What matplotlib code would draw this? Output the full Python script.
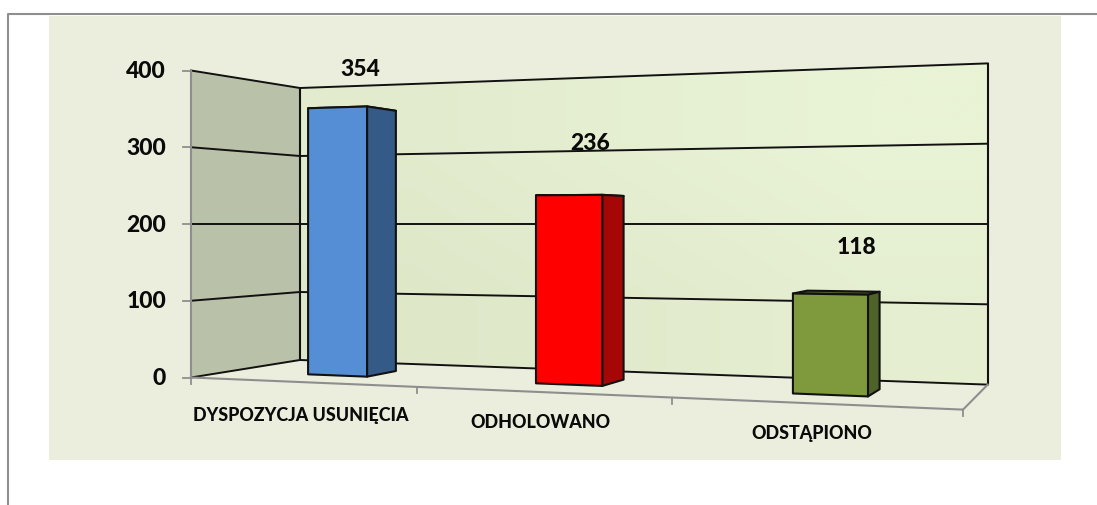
import matplotlib
matplotlib.use('Agg')
import matplotlib.pyplot as plt
import numpy as np
from matplotlib.patches import Polygon

categories = ['DYSPOZYCJA USUNIĘCIA', 'ODHOLOWANO', 'ODSTĄPIONO']
values = [354, 236, 118]
value_ticks = [0, 100, 200, 300, 400]

face_colors = ['#558ED5', '#FF0000', '#7F9A3D']
side_colors = ['#345A88', '#A50707', '#4F6228']

# where the labels sit in the picture (px)
value_label_pos = [(360, 69), (590, 143), (856, 248)]
cat_label_pos = [(301, 416), (540, 423), (812, 434)]

plt.rcParams['font.family'] = ['Lato', 'DejaVu Sans']
WEIGHT = 'black'


def project(u, d, v):
    """Perspective: u along the categories 0-1, d depth 0-1, v the value."""
    w = 1 - 0.173 * u + 0.1287 * d
    x = (605.4 * u + 147.6 * d + 191) / w
    half = 153.5 / w
    return x, 224 - (v - 200) / 200 * half


fig = plt.figure(figsize=(10.97, 5.05), dpi=100)
ax = fig.add_axes([0, 0, 1, 1])
ax.set_xlim(0, 1097)
ax.set_ylim(505, 0)
ax.axis('off')

# page frame + chart background
ax.plot([7.5, 7.5, 1097], [505, 14, 14], color='#8E8E8E', lw=1.5)
ax.fill([49, 1061, 1061, 49], [16, 16, 460, 460], color='#EBEEDD', lw=0)

# walls
left_wall = [project(0, 0, 0), project(0, 1, 0), project(0, 1, 400), project(0, 0, 400)]
ax.add_patch(Polygon(left_wall, facecolor='#B9C1A9', edgecolor='none'))

back_wall = [project(0, 1, 0), project(1, 1, 0), project(1, 1, 400), project(0, 1, 400)]
gradient = np.array([[0.35, 0.7, 1.0], [0.0, 0.3, 0.65]])
c0, c1 = np.array([0xDF, 0xE7, 0xC9]) / 255, np.array([0xE9, 0xF3, 0xD5]) / 255
img = c0 + gradient[..., None] * (c1 - c0)
wall_right = project(1, 1, 0)[0]
im = ax.imshow(img, extent=(300, wall_right, 384, 63), aspect='auto', interpolation='bilinear', zorder=1)
clip = Polygon(back_wall, transform=ax.transData)
im.set_clip_path(clip)
ax.set_xlim(0, 1097)
ax.set_ylim(505, 0)

# grid lines on both walls
for v in value_ticks:
    x0, y0 = project(0, 0, v)
    x1, y1 = project(0, 1, v)
    x2, y2 = project(1, 1, v)
    ax.plot([x0, x1, x2], [y0, y1, y2], color='#111111', lw=1.4, zorder=2)
    ax.plot([x0 - 8, x0], [y0, y0], color='#8E8E8E', lw=1.3, zorder=2)
    ax.text(166, y0 + 1, str(v), ha='right', va='center', fontsize=16.5, fontweight=WEIGHT, color='#0A0A0A')

for u in [0, 1]:
    xb, yb0 = project(u, 1, 0)
    _, yb1 = project(u, 1, 400)
    ax.plot([xb, xb], [yb0, yb1], color='#111111', lw=1.5, solid_capstyle='butt', zorder=2)

# axis lines and category ticks
xa, ya0 = project(0, 0, 0)
_, ya1 = project(0, 0, 400)
ax.plot([xa, xa], [ya0, ya1], color='#8E8E8E', lw=1.5, zorder=3)
front = [project(u, 0, 0) for u in [0, 1]]
ax.plot([p[0] for p in front], [p[1] for p in front], color='#8E8E8E', lw=1.5, zorder=3)
edge = [project(1, 0, 0), project(1, 1, 0)]
ax.plot([p[0] for p in edge], [p[1] for p in edge], color='#8E8E8E', lw=1.5, zorder=3)
for i in range(len(categories) + 1):
    xt, yt = project(i / len(categories), 0, 0)
    ax.plot([xt, xt], [yt, yt + 6], color='#8E8E8E', lw=1.3, zorder=3)

# bars
bar_w = 0.09
bar_shift = 0.002
d_front, d_back = 0.33, 0.63
for i, val in enumerate(values):
    ul = (i + 0.5) / len(values) + bar_shift - bar_w / 2
    ur = ul + bar_w
    top = [project(ul, d_front, val), project(ur, d_front, val),
           project(ur, d_back, val), project(ul, d_back, val)]
    side = [project(ur, d_front, 0), project(ur, d_back, 0),
            project(ur, d_back, val), project(ur, d_front, val)]
    face = [project(ul, d_front, 0), project(ur, d_front, 0),
            project(ur, d_front, val), project(ul, d_front, val)]
    ax.add_patch(Polygon(top, facecolor=side_colors[i], edgecolor='#111111', lw=1.5, joinstyle='round', zorder=4))
    ax.add_patch(Polygon(side, facecolor=side_colors[i], edgecolor='#111111', lw=1.5, joinstyle='round', zorder=5))
    ax.add_patch(Polygon(face, facecolor=face_colors[i], edgecolor='#111111', lw=1.5, joinstyle='round', zorder=6))
    ax.text(*value_label_pos[i], str(val), ha='center', va='center', fontsize=16.5,
            fontweight=WEIGHT, color='#0A0A0A', zorder=7)
    ax.text(*cat_label_pos[i], categories[i], ha='center', va='center', fontsize=12.9,
            fontweight=WEIGHT, color='#0A0A0A', zorder=7)

fig.savefig('out.png', dpi=100, facecolor='white')
